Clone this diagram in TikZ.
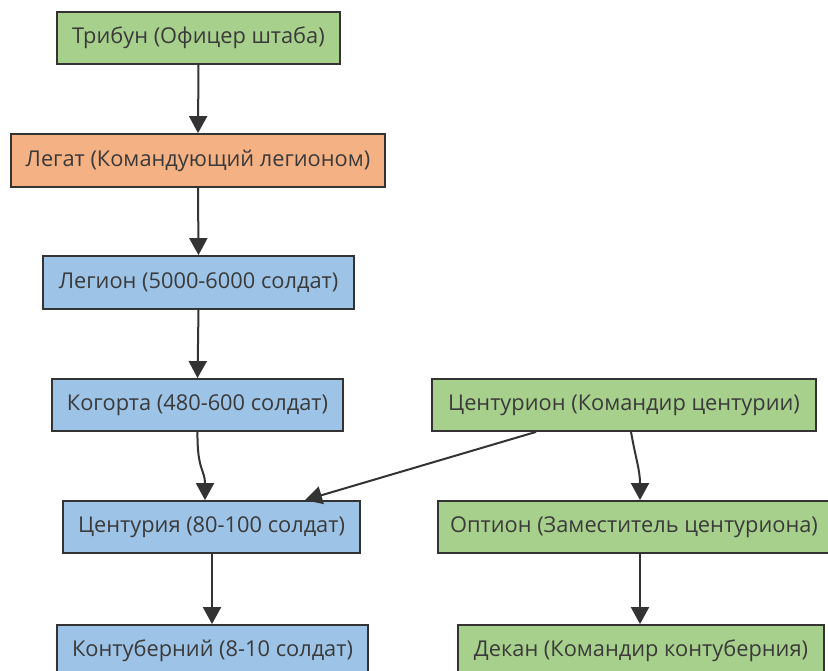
\documentclass[tikz,border=0pt]{standalone}
\usepackage{fontspec}
\setmainfont{Open Sans}
\usetikzlibrary{arrows.meta}
\definecolor{gfill}{HTML}{A8D08D}
\definecolor{ofill}{HTML}{F4B183}
\definecolor{bfill}{HTML}{9DC3E6}
\definecolor{edge}{HTML}{333333}
\definecolor{txt}{HTML}{3A3A3A}
\tikzset{
  box/.style={draw=edge, line width=1.8pt, inner sep=0pt, text=txt,
    font=\fontsize{21.8}{24}\selectfont},
  gbox/.style={box, fill=gfill},
  obox/.style={box, fill=ofill},
  bbox/.style={box, fill=bfill},
  conn/.style={draw=edge, line width=2pt, -{Triangle[width=18pt,length=17pt]}}
}
\begin{document}
\begin{tikzpicture}[x=1pt,y=-1pt]
\useasboundingbox (0,0) rectangle (828,671);
\clip (0,0) rectangle (828,671);
\fill[white] (0,0) rectangle (828,671);
\node[gbox, minimum width=283pt, minimum height=52pt] (trib) at (198.5,38) {Трибун (Офицер штаба)};
\node[obox, minimum width=374pt, minimum height=53pt] (leg) at (198,160.5) {Легат (Командующий легионом)};
\node[bbox, minimum width=311pt, minimum height=53pt] (legion) at (198.5,282.5) {Легион (5000-6000 солдат)};
\node[bbox, minimum width=291pt, minimum height=52pt] (kog) at (197.5,405) {Когорта (480-600 солдат)};
\node[gbox, minimum width=384pt, minimum height=52pt] (centurion) at (624,405) {Центурион (Командир центурии)};
\node[bbox, minimum width=297pt, minimum height=52pt] (centuria) at (211.5,527) {Центурия (80-100 солдат)};
\node[gbox, minimum width=392pt, minimum height=52pt] (option) at (634,527) {Оптион (Заместитель центуриона)};
\node[bbox, minimum width=311pt, minimum height=52pt] (kont) at (212.5,651) {Контуберний (8-10 солдат)};
\node[gbox, minimum width=366pt, minimum height=52pt] (dekan) at (641,651) {Декан (Командир контуберния)};
\draw[conn] (trib.south) -- (leg.north);
\draw[conn] (leg.south) -- (legion.north);
\draw[conn] (legion.south) -- (kog.north);
\draw[conn] (kog.south) .. controls (197,470) and (205,470) .. (centuria.north -| 205,0);
\draw[conn] (centurion.south -| 536,0) -- (centuria.north -| 305,0);
\draw[conn] (centurion.south -| 631,0) .. controls (636,460) and (640,470) .. (option.north -| 640,0);
\draw[conn] (centuria.south -| 212,0) -- (kont.north -| 212,0);
\draw[conn] (option.south -| 640,0) -- (dekan.north -| 640,0);
\end{tikzpicture}
\end{document}
